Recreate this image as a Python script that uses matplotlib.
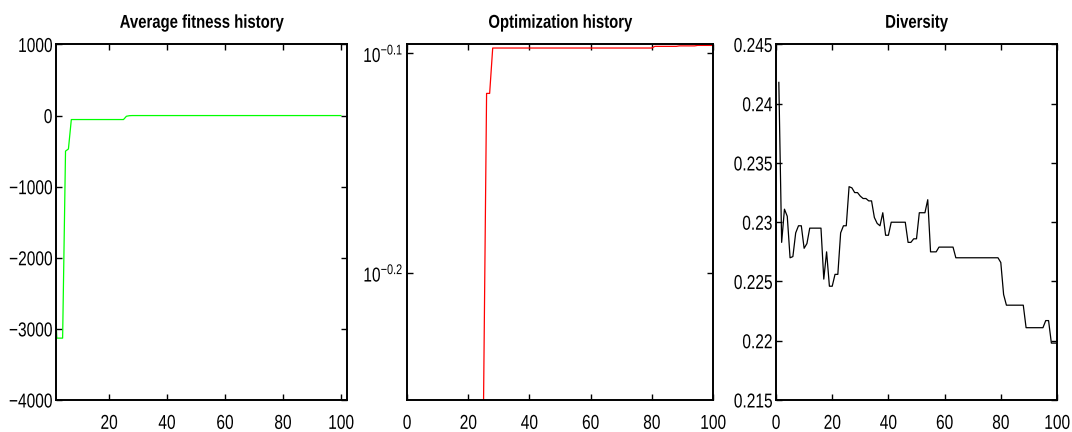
import matplotlib
matplotlib.use('Agg')
import matplotlib.pyplot as plt
import numpy as np
from matplotlib.patheffects import AbstractPathEffect
from matplotlib.transforms import Affine2D

plt.rcParams['font.family'] = ['Liberation Sans', 'DejaVu Sans']
plt.rcParams['mathtext.fontset'] = 'custom'
plt.rcParams['mathtext.rm'] = 'Liberation Sans'
plt.rcParams['mathtext.it'] = 'Liberation Sans'
plt.rcParams['mathtext.bf'] = 'Liberation Sans:bold'


# the reference uses a narrow Helvetica; squeeze the text paths horizontally
class Squeeze(AbstractPathEffect):
    def __init__(self, sx=0.77, anchor='center'):
        super().__init__()
        self.sx = sx
        self.anchor = anchor

    def draw_path(self, renderer, gc, tpath, affine, rgbFace=None):
        ext = tpath.transformed(affine).get_extents()
        if self.anchor == 'right':
            x0 = ext.x1
        elif self.anchor == 'left':
            x0 = ext.x0
        else:
            x0 = (ext.x0 + ext.x1) / 2
        t = affine + Affine2D().translate(-x0, 0).scale(self.sx, 1).translate(x0, 0)
        renderer.draw_path(gc, tpath, t, rgbFace)


generations = np.arange(1, 101)

avg_fitness = [-2260, -3130, -3130, -3130, -500, -470] + [-56] * 19 + [-10, -2] + [0] * 73

best_fitness = ([np.nan] * 24 + [0.55, 0.7614, 0.7614] + [0.7985] * 53
                + [0.7999] * 8 + [0.8003] * 6 + [0.8007] * 6)

diversity = ([0.2418, 0.2283, 0.2311, 0.2305, 0.2270, 0.2271, 0.2291, 0.2297, 0.2297, 0.2278, 0.2282]
             + [0.2295] * 5
             + [0.2252, 0.2275, 0.2246, 0.2246, 0.2256, 0.2256, 0.2291, 0.2297, 0.2297]
             + [0.2330, 0.2329, 0.2325, 0.2325, 0.2322, 0.2320, 0.2320, 0.2318, 0.2318,
                0.2304, 0.2299, 0.2297, 0.2308, 0.2289, 0.2289]
             + [0.2300] * 6
             + [0.2283, 0.2283, 0.2286, 0.2286]
             + [0.2308] * 3 + [0.2319] + [0.2275] * 3 + [0.2279] * 6 + [0.2270] * 16
             + [0.2266, 0.2239] + [0.2230] * 7 + [0.2211] * 7 + [0.2217, 0.2217] + [0.2198] * 3)

titles = ['Average fitness history', 'Optimization history', 'Diversity']

fig = plt.figure(figsize=(10.72, 4.32), dpi=100)
ax1 = fig.add_axes([0.0522, 0.0741, 0.2715, 0.823])
ax2 = fig.add_axes([0.3797, 0.0741, 0.2854, 0.823])
ax3 = fig.add_axes([0.7239, 0.0741, 0.2621, 0.823])

ax1.plot(generations, avg_fitness, color=(0, 1, 0), lw=0.9)
ax1.set_xlim(1.7, 102.1)
ax1.set_ylim(-4000, 1000)
ax1.set_xticks([20, 40, 60, 80, 100])
ax1.set_yticks([-4000, -3000, -2000, -1000, 0, 1000])
ax1.set_yticklabels(['\u22124000', '\u22123000', '\u22122000', '\u22121000', '0', '1000'])

ax2.plot(generations, best_fitness, color=(1, 0, 0), lw=0.9)
ax2.set_yscale('log')
ax2.set_xlim(0, 100)
ax2.set_ylim(10 ** -0.258, 10 ** -0.0961)
ax2.set_xticks([0, 20, 40, 60, 80, 100])
ax2.yaxis.set_minor_locator(matplotlib.ticker.NullLocator())
ax2.set_yticks([10 ** -0.2, 10 ** -0.1])
ax2.set_yticklabels([r'$10^{-0.2}$', r'$10^{-0.1}$'])

ax3.plot(generations, diversity, color='black', lw=0.9)
ax3.set_xlim(0, 100)
ax3.set_ylim(0.215, 0.245)
ax3.set_xticks([0, 20, 40, 60, 80, 100])
ax3.set_yticks([0.215, 0.22, 0.225, 0.23, 0.235, 0.24, 0.245])
ax3.set_yticklabels(['0.215', '0.22', '0.225', '0.23', '0.235', '0.24', '0.245'])

for ax, t in zip([ax1, ax2, ax3], titles):
    ttl = ax.set_title(t, fontsize=13.4, fontweight='bold', pad=12)
    ttl.set_path_effects([Squeeze(0.80, 'center')])
    ax.tick_params(direction='in', top=True, right=True, length=4, width=1, labelsize=14.5)
    ax.tick_params(axis='x', pad=10)
    ax.tick_params(axis='y', pad=2.5)
    for lab in ax.get_xticklabels():
        lab.set_path_effects([Squeeze(0.77, 'center')])
    for lab in ax.get_yticklabels():
        lab.set_path_effects([Squeeze(0.77, 'right')])
    for s in ax.spines.values():
        s.set_linewidth(1.4)

plt.savefig('out.png', dpi=100)
